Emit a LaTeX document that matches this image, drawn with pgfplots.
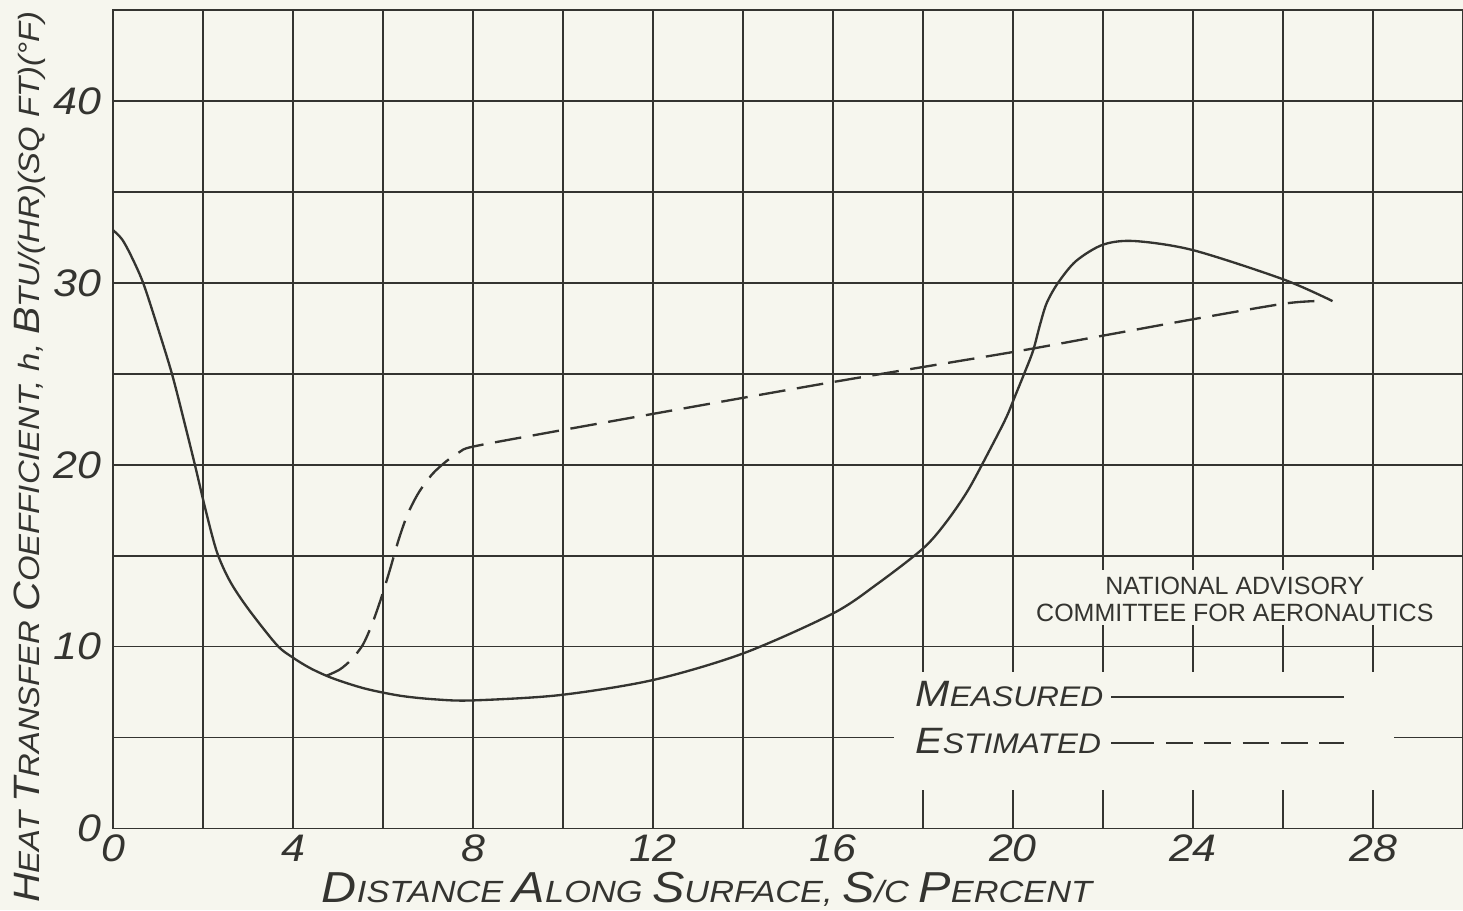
\documentclass[border=0pt]{standalone}
\usepackage{fontspec}
\setmainfont{Liberation Sans}
\newfontfamily\handf[FakeStretch=1.12]{Liberation Sans}
\newcommand{\hand}{\handf\itshape}
\usepackage{pgfplots}
\pgfplotsset{compat=1.18}
\definecolor{paper}{RGB}{246,246,238}
\definecolor{ink}{RGB}{52,52,48}
\newcommand{\BigL}[1]{{\fontsize{13}{13}\selectfont #1}}
\newcommand{\Lg}[1]{{\fontsize{11}{11}\selectfont #1}}
\begin{document}
\begin{tikzpicture}
\fill[paper] (-33.9pt,-24.4pt) rectangle (405pt,248.6pt);
\begin{axis}[
  name=ax, at={(0,0)}, anchor=south west,
  width=405pt, height=245.6pt, scale only axis,
  xmin=0, xmax=30, ymin=0, ymax=45,
  xtick={0,4,...,28}, minor xtick={2,6,...,30},
  ytick={0,10,...,40}, minor ytick={5,15,...,45},
  grid=both,
  major grid style={draw=ink, line width=0.45pt},
  minor grid style={draw=ink, line width=0.45pt},
  axis line style={draw=ink, line width=0.5pt},
  major tick length=0pt, minor tick length=0pt,
  /pgf/number format/assume math mode=true,
  xticklabel style={font=\hand\fontsize{11.5}{12}\selectfont, text=ink, yshift=1.6pt},
  yticklabel style={font=\hand\fontsize{11.5}{12}\selectfont, text=ink},
  every axis x label/.style={at={(axis description cs:0.44,-0.074)}, anchor=center},
  every axis y label/.style={at={(axis description cs:-0.0615,0.454)}, rotate=90, anchor=center},
  xlabel={\hand\fontsize{9.2}{10}\selectfont\color{ink}\BigL{D}ISTANCE \BigL{A}LONG \BigL{S}URFACE, \BigL{S}/C \BigL{P}ERCENT},
  ylabel={\hand\fontsize{8.8}{10}\selectfont\color{ink}\Lg{H}EAT \Lg{T}RANSFER \Lg{C}OEFFICIENT, h, \Lg{B}TU/(HR)(SQ FT)(°F)},
  legend plot pos=right,
  legend cell align=left,
  legend image code/.code={\path (0pt,0pt) -- (5pt,0pt); \draw[#1] (5pt,0pt) -- (70pt,0pt);},
  legend style={at={(axis cs:17.45,8.85)}, anchor=north west, draw=none, fill=none,
    font=\hand\fontsize{8.5}{9}\selectfont, text=ink, row sep=0.8pt},
]
\fill[paper] (axis cs:17.36,2.1) rectangle (axis cs:28.46,8.6);
\fill[paper] (axis cs:20.2,11.2) rectangle (axis cs:29.6,14.2);
\addplot[ink, line width=0.7pt, smooth, tension=0.5] coordinates {
(0,32.9) (0.2,32.4) (0.4,31.5) (0.67,30.0) (1.0,27.5) (1.31,25.0) (1.57,22.5)
(1.82,20.0) (2.06,17.5) (2.31,15.2) (2.6,13.6) (3.0,12.1) (3.64,10.1) (4.0,9.4)
(4.4,8.8) (4.9,8.25) (5.6,7.7) (6.4,7.3) (7.2,7.1) (8.0,7.05) (9.92,7.34)
(12,8.17) (14,9.63) (16,11.83) (17,13.48) (18,15.4) (18.5,16.8) (19.0,18.6)
(19.5,20.9) (19.85,22.6) (20.05,23.8) (20.28,25.2) (20.45,26.3) (20.6,27.7)
(20.75,28.9) (21.0,30.0) (21.4,31.2) (22.0,32.1) (22.7,32.3) (24.0,31.8)
(26.0,30.2) (27.1,29.0)
};
\addlegendentry{\Lg{M}EASURED}
\addplot[ink, line width=0.7pt, smooth, tension=0.5, dash pattern=on 8pt off 3.5pt] coordinates {
(4.74,8.4) (5.04,8.75) (5.3,9.3) (5.55,10.1) (5.75,11.2) (5.95,12.6) (6.15,14.2)
(6.35,15.9) (6.55,17.3) (6.8,18.5) (7.1,19.5) (7.41,20.2) (7.7,20.7) (8.0,21.0)
(9.63,21.75) (12,22.8) (16,24.55) (20,26.2) (22,27.1) (24,28.0) (26,28.85) (26.75,29.0)
};
\addlegendentry{\Lg{E}STIMATED}
\node[font=\fontsize{7.5}{7.9}\selectfont, text=ink, align=center] at (axis cs:24.93,12.6)
  {NATIONAL ADVISORY\\COMMITTEE FOR AERONAUTICS};
\end{axis}
\pgfresetboundingbox
\path (-33.9pt,-24.4pt) rectangle (405pt,248.6pt);
\end{tikzpicture}
\end{document}
